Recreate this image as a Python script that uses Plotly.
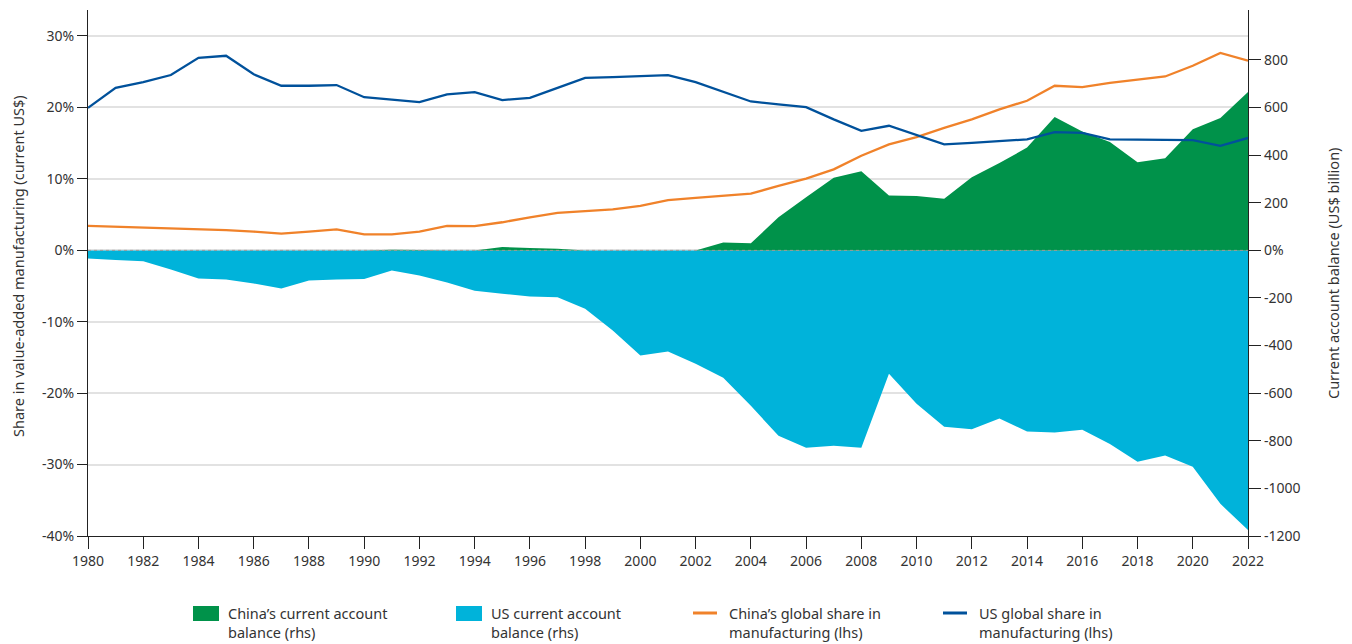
import plotly.graph_objects as go

years = list(range(1980, 2023))

us_share = [19.9, 22.7, 23.5, 24.5, 26.9, 27.2, 24.6, 23.0, 23.0, 23.1,
            21.4, 21.0, 20.7, 21.8, 22.1, 21.0, 21.3, 22.7, 24.1, 24.2,
            24.4, 24.5, 23.5, 22.1, 20.8, 20.4, 20.0, 18.3, 16.7, 17.4,
            16.1, 14.8, 15.0, 15.3, 15.5, 16.5, 16.4, 15.5, 15.5, 15.5,
            15.4, 14.6, 15.7]

china_share = [3.4, 3.3, 3.1, 3.0, 2.9, 2.8, 2.6, 2.3, 2.6, 2.9,
               2.2, 2.2, 2.6, 3.4, 3.35, 3.9, 4.6, 5.2, 5.45, 5.7,
               6.2, 7.0, 7.3, 7.6, 7.9, 9.0, 10.0, 11.3, 13.2, 14.8,
               15.8, 17.1, 18.3, 19.7, 20.9, 23.0, 22.8, 23.4, 23.8, 24.3,
               25.8, 27.6, 26.5]

china_ca = [0, 0, 0, 0, 0, 0, 0, 0, 0, 0,
            0, 3, 2, 0, 0, 14, 10, 7, 0, 0,
            0, 0, 0, 33, 30, 139, 223, 305, 332, 231,
            228, 217, 307, 367, 432, 560, 500, 455, 370, 387,
            509, 556, 665]

us_ca = [-34, -40, -46, -80, -118, -122, -139, -160, -126, -122,
         -120, -84, -105, -135, -170, -182, -194, -197, -245, -337,
         -442, -425, -476, -535, -653, -779, -829, -821, -829, -518,
         -644, -741, -752, -706, -761, -765, -754, -813, -888, -862,
         -909, -1065, -1175]

lhs_ticks = [-40, -30, -20, -10, 0, 10, 20, 30]
lhs_labels = [f"{v}%" for v in lhs_ticks]
rhs_ticks = [-1200, -1000, -800, -600, -400, -200, 0, 200, 400, 600, 800]
rhs_labels = ["0%" if v == 0 else str(v) for v in rhs_ticks]
x_ticks = list(range(1980, 2023, 2))

legend_names = ["China’s current account<br>balance (rhs)",
                "US current account<br>balance (rhs)",
                "China’s global share in<br>manufacturing (lhs)",
                "US global share in<br>manufacturing (lhs)"]

GREEN = "#00924a"
CYAN = "#00b3da"
ORANGE = "#f0822a"
BLUE = "#00519b"
TEXT = "#333333"
FONT = "Noto Sans, Open Sans, sans-serif"

fig = go.Figure()
fig.add_trace(go.Scatter(x=years, y=us_ca, mode="none", fill="tozeroy",
                         fillcolor=CYAN, yaxis="y", showlegend=False))
fig.add_trace(go.Scatter(x=years, y=china_ca, mode="none", fill="tozeroy",
                         fillcolor=GREEN, yaxis="y", showlegend=False))
fig.add_trace(go.Scatter(x=years, y=china_share, mode="lines",
                         line=dict(color=ORANGE, width=2.3), yaxis="y2",
                         showlegend=False))
fig.add_trace(go.Scatter(x=years, y=us_share, mode="lines",
                         line=dict(color=BLUE, width=2.3), yaxis="y2",
                         showlegend=False))

# page has an 8px body margin; plot area in page pixels: x 88..1248, y 10..536
OFF = 8
PL, PR, PT, PB = 88, 1248, 10, 536
W, H = 1352 - OFF, 644 - OFF
ML, MT = PL - OFF, PT - OFF
MR, MB = 1352 - PR, 644 - PB
PW, PH = PR - PL, PB - PT


def px(xp):
    return (xp - PL) / PW


def py(yp):
    return (PB - yp) / PH


fig.update_layout(
    width=W, height=H,
    margin=dict(l=ML, r=MR, t=MT, b=MB, pad=0),
    paper_bgcolor="white", plot_bgcolor="white",
    font=dict(family=FONT, size=14, color=TEXT),
    showlegend=False,
    xaxis=dict(range=[1980, 2022], tickvals=x_ticks, showgrid=False,
               zeroline=False, showline=True, linecolor="#222", linewidth=1.3,
               ticks="outside", ticklen=12, tickcolor="#222", tickwidth=1.3,
               tickfont=dict(size=14, color=TEXT)),
    yaxis=dict(side="right", range=[-1200, 1010], tickvals=rhs_ticks,
               ticktext=rhs_labels, showgrid=False, zeroline=False,
               showline=True, linecolor="#222", linewidth=1.3,
               ticks="outside", ticklen=12, tickcolor="#222", tickwidth=1.3,
               tickfont=dict(size=14, color=TEXT)),
    yaxis2=dict(overlaying="y", side="left", range=[-40, 33.6],
                tickvals=lhs_ticks, ticktext=lhs_labels, showgrid=True,
                gridcolor="#e2e2e2", gridwidth=1.5, zeroline=False,
                showline=True, linecolor="#222", linewidth=1.3,
                ticks="outside", ticklen=10, tickcolor="#222", tickwidth=1.3,
                tickfont=dict(size=14, color=TEXT)),
)

# dotted zero line
fig.add_shape(type="line", xref="paper", x0=0, x1=1, yref="y", y0=0, y1=0,
              line=dict(color="#9a9a9a", width=1, dash="dot"), layer="above")

# axis titles
fig.add_annotation(text="Share in value-added manufacturing (current US$)",
                   xref="paper", yref="paper", x=px(18), y=py(266),
                   textangle=-90, showarrow=False, xanchor="center",
                   yanchor="middle", font=dict(size=14.5, color=TEXT))
fig.add_annotation(text="Current account balance (US$ billion)",
                   xref="paper", yref="paper", x=px(1333), y=py(274),
                   textangle=-90, showarrow=False, xanchor="center",
                   yanchor="middle", font=dict(size=14.5, color=TEXT))

# legend (manual)
leg_x = [193, 456, 693, 943]
leg_colors = [GREEN, CYAN, ORANGE, BLUE]
for i, (name, col) in enumerate(zip(legend_names, leg_colors)):
    x0 = leg_x[i]
    if i < 2:
        fig.add_shape(type="rect", xref="paper", yref="paper",
                      x0=px(x0), x1=px(x0 + 26), y0=py(606), y1=py(621),
                      fillcolor=col, line=dict(width=0))
        tx = x0 + 34
    else:
        fig.add_shape(type="line", xref="paper", yref="paper",
                      x0=px(x0), x1=px(x0 + 24), y0=py(613), y1=py(613),
                      line=dict(color=col, width=3))
        tx = x0 + 35
    fig.add_annotation(text=name, xref="paper", yref="paper", x=px(tx),
                       y=py(602), xanchor="left", yanchor="top", align="left",
                       showarrow=False, borderpad=0,
                       font=dict(family=FONT, size=14.5, color=TEXT))

fig.write_html("out.html")
